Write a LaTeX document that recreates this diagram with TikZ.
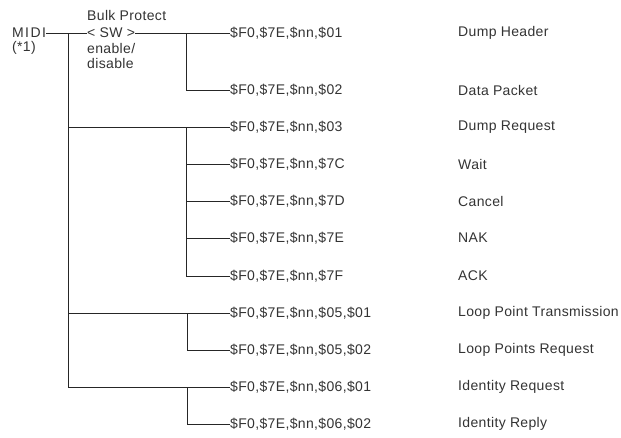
\documentclass[tikz,border=0pt]{standalone}
\usepackage{fontspec}
\setmainfont{Liberation Sans}[LetterSpace=2.5]
\begin{document}
\begin{tikzpicture}[x=1pt,y=-1pt,
  lbl/.style={inner sep=0pt,anchor=west,text=black!80,font=\fontsize{14}{16}\selectfont},
  wire/.style={draw=black!85,line width=0.9pt}]
\useasboundingbox (0,0) rectangle (621,437);
% left labels
\node[lbl,font=\fontsize{14}{16}\selectfont\addfontfeatures{LetterSpace=10}] (midi) at (12,33) {MIDI};
\node[lbl] (star) at (12,48) {(*1)};
\node[lbl] (bulk) at (87,15) {Bulk Protect};
\node[lbl] (sw) at (87,33) {< SW >};
\node[lbl] (en) at (87,48) {enable/};
\node[lbl] (dis) at (87,63) {disable};
% codes
\foreach \n/\y/\t in {1/33/{\$F0,\$7E,\$nn,\$01},2/90/{\$F0,\$7E,\$nn,\$02},3/127/{\$F0,\$7E,\$nn,\$03},4/164/{\$F0,\$7E,\$nn,\$7C},5/201/{\$F0,\$7E,\$nn,\$7D},6/238/{\$F0,\$7E,\$nn,\$7E},7/276/{\$F0,\$7E,\$nn,\$7F},8/313/{\$F0,\$7E,\$nn,\$05,\$01},9/350/{\$F0,\$7E,\$nn,\$05,\$02},10/387/{\$F0,\$7E,\$nn,\$06,\$01},11/424/{\$F0,\$7E,\$nn,\$06,\$02}}
  \node[lbl] (c\n) at (230,\y) {\t};
% descriptions
\foreach \n/\y/\t in {1/33/Dump Header,2/90/Data Packet,3/127/Dump Request,4/164/Wait,5/201/Cancel,6/238/NAK,7/276/ACK,8/313/Loop Point Transmission,9/350/Loop Points Request,10/387/Identity Request,11/424/Identity Reply}
  \node[lbl] (d\n) at (458,\y) {\t};
% junctions
\coordinate (m0) at (68,33);
\coordinate (m1) at (68,127);
\coordinate (m2) at (68,313);
\coordinate (m3) at (68,387);
\coordinate (s0) at (186,33);
\coordinate (s1) at (186,127);
\coordinate (s2) at (187,313);
\coordinate (s3) at (187,387);
% connectors
\draw[wire] (midi.east) -- (sw.west);
\draw[wire] (m0) -- (m3);
\draw[wire] (sw.east) -- (c1.west);
\draw[wire] (s0) |- (c2.west);
\draw[wire] (m1) -- (c3.west);
\draw[wire] (s1) |- (c7.west);
\draw[wire] (s1 |- c4.west) -- (c4.west);
\draw[wire] (s1 |- c5.west) -- (c5.west);
\draw[wire] (s1 |- c6.west) -- (c6.west);
\draw[wire] (m2) -- (c8.west);
\draw[wire] (s2) |- (c9.west);
\draw[wire] (m3) -- (c10.west);
\draw[wire] (s3) |- (c11.west);
\end{tikzpicture}
\end{document}
